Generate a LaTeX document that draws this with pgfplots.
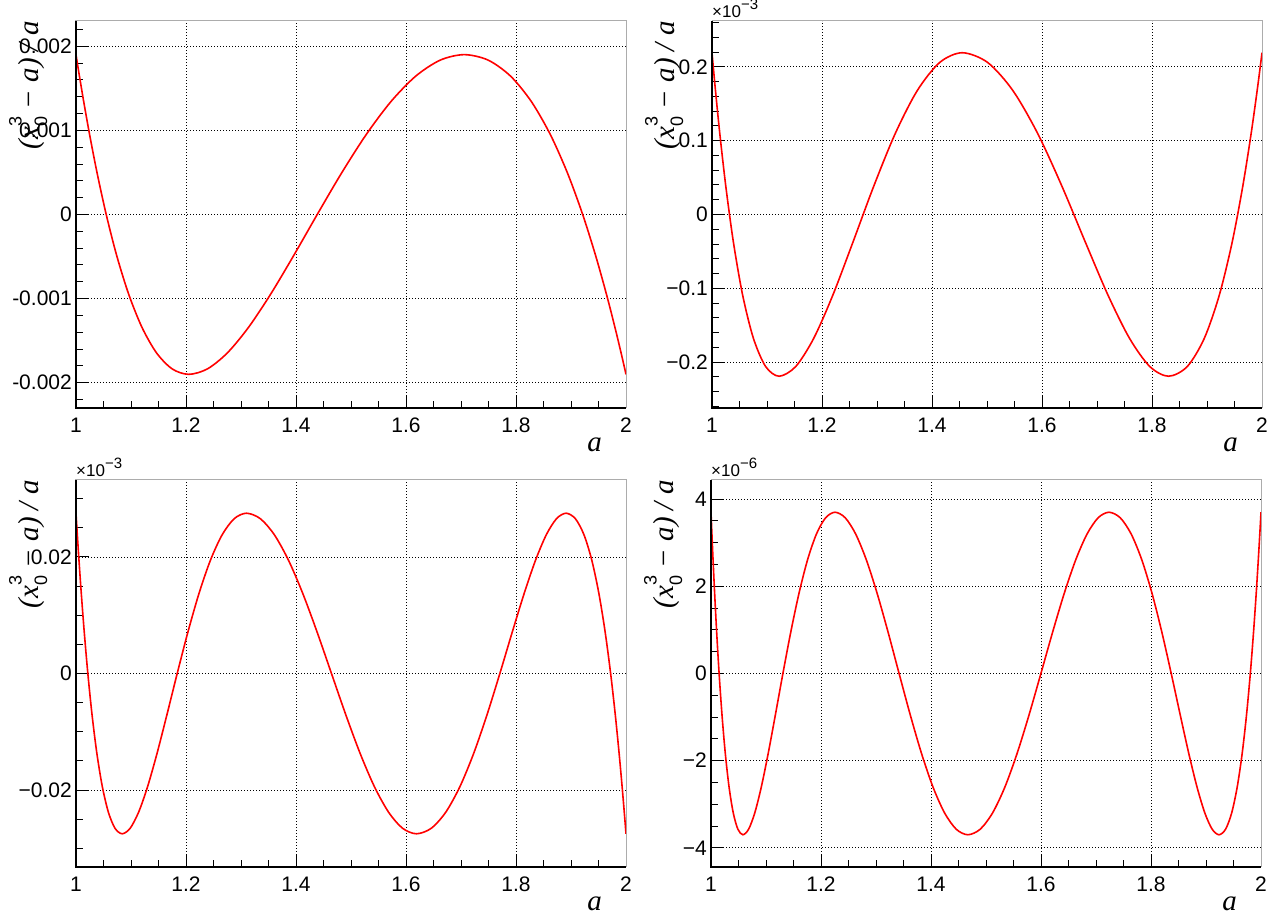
\documentclass[border=0pt]{standalone}
\usepackage{fontspec}
\setmainfont{Liberation Serif}
\newfontfamily\hel{Liberation Sans}
\usepackage{pgfplots}
\pgfplotsset{compat=1.18}

% y axis title, ROOT style
\newcommand{\ylab}{\textit{(x}\rlap{\raisebox{-0.30em}{\hel\fontsize{18}{18}\selectfont 0}}\raisebox{0.58em}{\hel\fontsize{18}{18}\selectfont 3}\ \textit{−\ a)\ /\ a}}
\newcommand{\expo}[1]{\node[anchor=base west, inner sep=0pt]
  at (rel axis cs:0,1) [yshift=3pt] {\hel\fontsize{17}{17}\selectfont ×10\raisebox{0.48em}{\fontsize{15}{15}\selectfont #1}};}
\newcommand{\blackaxes}{\draw[black, line width=1.2pt] (rel axis cs:0,1) -- (rel axis cs:0,0) -- (rel axis cs:1,0);}

\pgfplotsset{
  panel/.style={
    scale only axis, width=550pt, height=387pt, anchor=south west,
    clip mode=individual,
    xmin=1, xmax=2,
    xtick={1,1.2,1.4,1.6,1.8,2},
    xticklabels={1,1.2,1.4,1.6,1.8,2},
    minor xtick={1.05,1.1,1.15,1.25,1.3,1.35,1.45,1.5,1.55,1.65,1.7,1.75,1.85,1.9,1.95},
    scaled y ticks=false,
    tick align=inside, tick pos=left,
    major tick length=13pt, minor tick length=7pt,
    every tick/.style={black, line width=1pt},
    grid=major,
    major grid style={black, line width=0.8pt, dash pattern=on 1pt off 2pt},
    axis line style={gray!65, line width=1pt},
    ticklabel style={font=\hel\fontsize{21}{21}\selectfont},
    xticklabel style={inner sep=0pt, yshift=-10pt},
    yticklabel style={inner sep=0pt, xshift=-4pt},
    xlabel={\textit{a}},
    xlabel style={at={(rel axis cs:1,0)}, anchor=base east, inner sep=0pt,
      xshift=-24pt, yshift=-44pt, font=\fontsize{29}{29}\selectfont},
    ylabel={\ylab},
    ylabel style={at={(axis description cs:-0.087,1)}, anchor=east, inner sep=0pt,
      font=\fontsize{29}{29}\selectfont},
  },
  curve/.style={red, line width=1.6pt, smooth, mark=none},
}

\begin{document}
\begin{tikzpicture}

% top left
\begin{axis}[panel, at={(76pt,507pt)},
  ymin=-0.0023, ymax=0.0023,
  ytick={-0.002,-0.001,0,0.001,0.002},
  yticklabels={-0.002,-0.001,0,0.001,0.002},
  minor ytick={-0.0022,-0.0018,-0.0016,-0.0014,-0.0012,-0.0008,-0.0006,-0.0004,-0.0002,
    0.0002,0.0004,0.0006,0.0008,0.0012,0.0014,0.0016,0.0018,0.0022}]
\addplot[curve] coordinates {
 (1,0.0019) (1.00156,0.0018353) (1.00623,0.0016455) (1.01397,0.0013435) (1.02473,0.00095)
 (1.03841,0.00049176) (1.05493,0) (1.07415,-0.00049176) (1.09592,-0.00095) (1.12009,-0.0013435)
 (1.14646,-0.0016455) (1.17483,-0.0018353) (1.205,-0.0019)
 (1.23894,-0.0018353) (1.27515,-0.0016455) (1.31345,-0.0013435) (1.35363,-0.00095) (1.39544,-0.00049176)
 (1.43859,0) (1.48277,0.00049176) (1.52763,0.00095) (1.57279,0.0013435) (1.61785,0.0016455)
 (1.66240,0.0018353) (1.706,0.0019)
 (1.74926,0.0018353) (1.78996,0.0016455) (1.82778,0.0013435) (1.86243,0.00095) (1.89366,0.00049176)
 (1.92122,0) (1.94491,-0.00049176) (1.96454,-0.00095) (1.97997,-0.0013435) (1.99107,-0.0016455)
 (1.99776,-0.0018353) (2,-0.0019)
};
\blackaxes
\end{axis}

% top right
\begin{axis}[panel, at={(712pt,507pt)},
  ymin=-0.262, ymax=0.262,
  ytick={-0.2,-0.1,0,0.1,0.2},
  yticklabels={−0.2,−0.1,0,0.1,0.2},
  minor ytick={-0.26,-0.24,-0.22,-0.18,-0.16,-0.14,-0.12,-0.08,-0.06,-0.04,-0.02,
    0.02,0.04,0.06,0.08,0.12,0.14,0.16,0.18,0.22,0.24,0.26}]
\addplot[curve] coordinates {
 (1,0.219) (1.00159,0.20579) (1.00633,0.16776) (1.01419,0.1095) (1.02512,0.03803) (1.03903,-0.03803)
 (1.0558,-0.1095) (1.07533,-0.16776) (1.09745,-0.20579) (1.122,-0.219)
 (1.15229,-0.20579) (1.18488,-0.16776) (1.21953,-0.1095) (1.25598,-0.03803) (1.29393,0.03803)
 (1.33311,0.1095) (1.37322,0.16776) (1.41395,0.20579) (1.455,0.219)
 (1.50122,0.20579) (1.54709,0.16776) (1.59226,0.1095) (1.63638,0.03803) (1.67913,-0.03803)
 (1.72017,-0.1095) (1.75919,-0.16776) (1.79589,-0.20579) (1.83,-0.219)
 (1.8642,-0.20579) (1.89503,-0.16776) (1.92224,-0.1095) (1.94562,-0.03803) (1.965,0.03803)
 (1.98023,0.1095) (1.99118,0.16776) (1.99779,0.20579) (2,0.219)
};
\expo{−3}
\blackaxes
\end{axis}

% bottom left
\begin{axis}[panel, at={(76pt,48pt)},
  ymin=-0.0332, ymax=0.0332,
  ytick={-0.02,0,0.02},
  yticklabels={−0.02,0,0.02},
  minor ytick={-0.03,-0.025,-0.015,-0.01,-0.005,0.005,0.01,0.015,0.025,0.03}]
\addplot[curve] coordinates {
 (1,0.0275) (1.0006,0.026563) (1.00241,0.023816) (1.00541,0.019446) (1.00961,0.01375) (1.01499,0.0071176)
 (1.02153,0) (1.02921,-0.0071176) (1.03802,-0.01375) (1.04794,-0.019446) (1.05893,-0.023816)
 (1.07096,-0.026563) (1.084,-0.0275)
 (1.09841,-0.026563) (1.11378,-0.023816) (1.13006,-0.019446) (1.14723,-0.01375) (1.16522,-0.0071176)
 (1.184,0) (1.2035,0.0071176) (1.22368,0.01375) (1.24447,0.019446) (1.26583,0.023816)
 (1.28769,0.026563) (1.31,0.0275)
 (1.3351,0.026563) (1.36055,0.023816) (1.38629,0.019446) (1.41224,0.01375) (1.43833,0.0071176)
 (1.4645,0) (1.49067,-0.0071176) (1.51676,-0.01375) (1.54271,-0.019446) (1.56845,-0.023816)
 (1.5939,-0.026563) (1.619,-0.0275)
 (1.64585,-0.026563) (1.67216,-0.023816) (1.69786,-0.019446) (1.72289,-0.01375) (1.74718,-0.0071176)
 (1.77065,0) (1.79324,0.0071176) (1.8149,0.01375) (1.83556,0.019446) (1.85516,0.023816)
 (1.87366,0.026563) (1.891,0.0275)
 (1.90792,0.026563) (1.92354,0.023816) (1.93779,0.019446) (1.95066,0.01375) (1.96209,0.0071176)
 (1.97207,0) (1.98055,-0.0071176) (1.98753,-0.01375) (1.99297,-0.019446) (1.99687,-0.023816)
 (1.99922,-0.026563) (2,-0.0275)
};
\expo{−3}
\blackaxes
\end{axis}

% bottom right
\begin{axis}[panel, at={(711pt,48pt)},
  ymin=-4.44, ymax=4.44,
  ytick={-4,-2,0,2,4},
  yticklabels={−4,−2,0,2,4},
  minor ytick={-3.5,-3,-2.5,-1.5,-1,-0.5,0.5,1,1.5,2.5,3,3.5}]
\addplot[curve] coordinates {
 (1,3.7) (1.00041,3.5739) (1.00165,3.2043) (1.00371,2.6163) (1.00658,1.85) (1.01026,0.95763)
 (1.01475,0) (1.02004,-0.95763) (1.02611,-1.85) (1.03296,-2.6163) (1.04056,-3.2043)
 (1.04892,-3.5739) (1.058,-3.7)
 (1.06836,-3.5739) (1.07945,-3.2043) (1.09126,-2.6163) (1.10376,-1.85) (1.11692,-0.95763)
 (1.13073,0) (1.14515,0.95763) (1.16016,1.85) (1.17573,2.6163) (1.19183,3.2043)
 (1.20843,3.5739) (1.2255,3.7)
 (1.24397,3.5739) (1.26287,3.2043) (1.28217,2.6163) (1.3018,1.85) (1.32176,0.95763)
 (1.34199,0) (1.36246,-0.95763) (1.38313,-1.85) (1.40395,-2.6163) (1.4249,-3.2043)
 (1.44593,-3.5739) (1.467,-3.7)
 (1.48939,-3.5739) (1.51173,-3.2043) (1.53399,-2.6163) (1.55612,-1.85) (1.57808,-0.95763)
 (1.59983,0) (1.62132,0.95763) (1.64252,1.85) (1.66339,2.6163) (1.68389,3.2043)
 (1.70397,3.5739) (1.7236,3.7)
 (1.74398,3.5739) (1.7638,3.2043) (1.78303,2.6163) (1.80162,1.85) (1.81954,0.95763)
 (1.83676,0) (1.85325,-0.95763) (1.86896,-1.85) (1.88389,-2.6163) (1.89798,-3.2043)
 (1.91123,-3.5739) (1.9236,-3.7)
 (1.93556,-3.5739) (1.94657,-3.2043) (1.95659,-2.6163) (1.96561,-1.85) (1.97361,-0.95763)
 (1.98057,0) (1.98648,0.95763) (1.99134,1.85) (1.99512,2.6163) (1.99783,3.2043)
 (1.99946,3.5739) (2,3.7)
};
\expo{−6}
\blackaxes
\end{axis}

\pgfresetboundingbox
\useasboundingbox (0pt,0pt) rectangle (1270pt,915pt);
\end{tikzpicture}
\end{document}
